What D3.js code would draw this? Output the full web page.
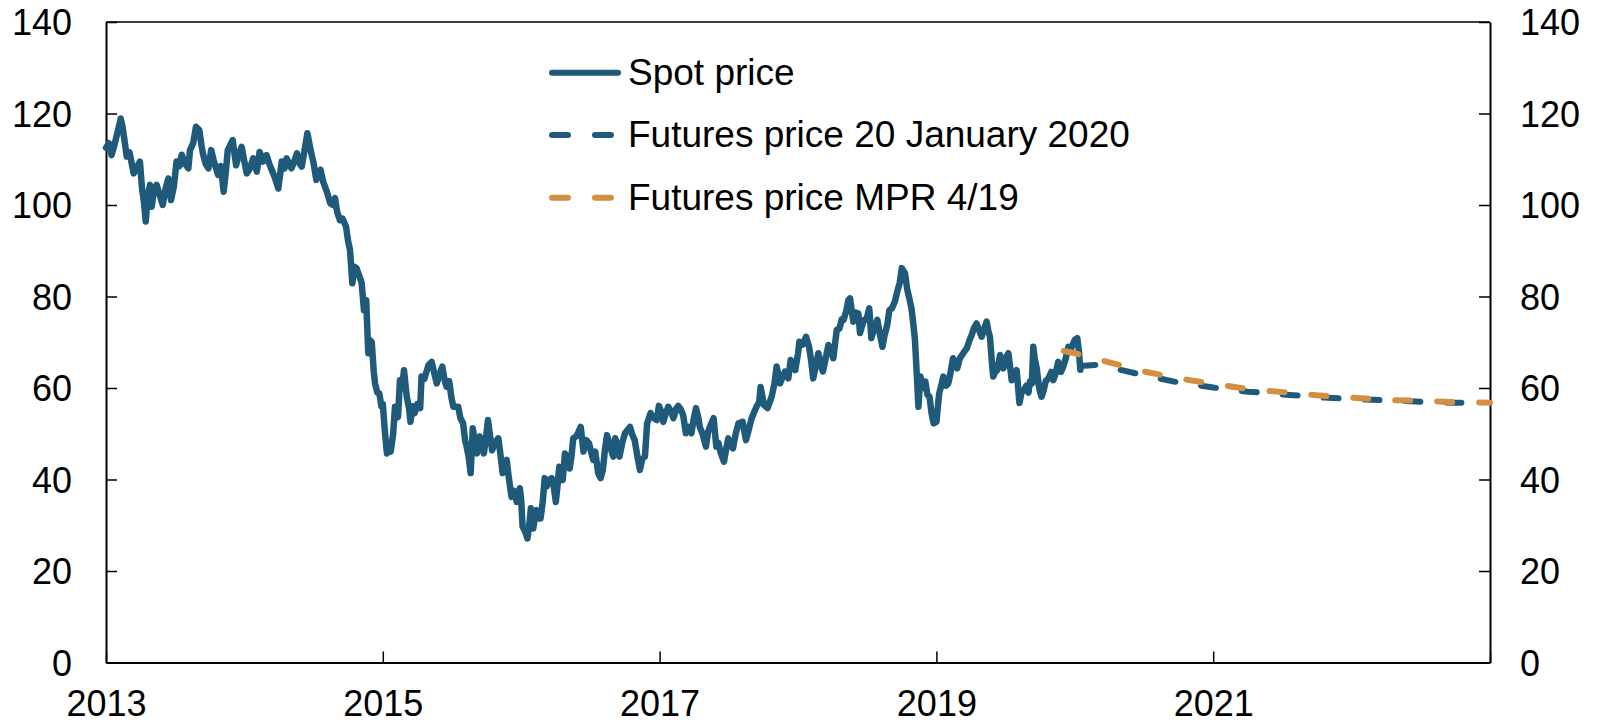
<!DOCTYPE html>
<html><head><meta charset="utf-8">
<script src="https://cdn.jsdelivr.net/npm/d3@7"></script>
<style>
body{margin:0;background:#fff}
svg{display:block}
text{font-family:"Liberation Sans",Arial,sans-serif;fill:#000}
</style>
</head><body>
<svg id="c" width="1598" height="724"></svg>
<script>
// ---------- data ----------
const yTicks = [0, 20, 40, 60, 80, 100, 120, 140];
const xTicks = [2013, 2015, 2017, 2019, 2021, 2023];
const xTickLabels = ["2013", "2015", "2017", "2019", "2021", ""];
const seriesNames = ["Spot price", "Futures price 20 January 2020", "Futures price MPR 4/19"];
const seriesColors = ["#1f5a7a", "#1f5a7a", "#d48f42"];

// Brent spot price, USD per barrel (time as decimal year)
const spot = [
[2013.00,112.5],[2013.02,113.5],[2013.04,110.9],[2013.06,113.0],[2013.08,115.5],[2013.10,118.0],[2013.106,118.9],[2013.12,117.0],
[2013.15,110.6],[2013.17,111.5],[2013.20,106.9],[2013.22,108.0],[2013.245,109.5],[2013.26,103.7],[2013.275,100.5],[2013.287,96.4],
[2013.30,101.5],[2013.318,104.4],[2013.33,99.6],[2013.345,103.0],[2013.366,104.4],[2013.39,102.0],[2013.41,100.0],[2013.43,103.5],
[2013.45,105.8],[2013.47,101.1],[2013.49,104.0],[2013.51,109.5],[2013.53,108.5],[2013.547,111.0],[2013.57,109.0],[2013.595,108.0],
[2013.607,112.0],[2013.63,113.5],[2013.65,117.1],[2013.674,116.4],[2013.69,113.0],[2013.70,111.3],[2013.72,109.0],[2013.74,108.0],
[2013.76,112.0],[2013.78,109.5],[2013.81,106.6],[2013.83,108.5],[2013.85,102.9],[2013.865,107.0],[2013.88,112.0],[2013.915,114.2],
[2013.94,108.7],[2013.96,111.0],[2013.98,112.7],[2014.00,109.5],[2014.017,106.9],[2014.04,108.0],[2014.064,110.2],[2014.09,107.3],
[2014.11,111.6],[2014.135,109.5],[2014.16,110.9],[2014.18,109.0],[2014.197,107.7],[2014.22,106.0],[2014.245,103.6],[2014.27,109.5],
[2014.29,108.0],[2014.305,110.2],[2014.34,108.0],[2014.36,109.5],[2014.38,111.3],[2014.40,109.0],[2014.414,108.4],[2014.435,112.0],
[2014.455,115.7],[2014.475,112.5],[2014.50,109.1],[2014.52,105.5],[2014.535,107.0],[2014.55,107.7],[2014.57,105.0],[2014.595,103.0],
[2014.62,100.4],[2014.64,100.0],[2014.655,101.5],[2014.67,98.5],[2014.69,96.7],[2014.71,97.0],[2014.734,95.3],[2014.75,92.0],
[2014.763,90.2],[2014.775,85.0],[2014.78,82.9],[2014.795,86.5],[2014.81,86.2],[2014.83,84.5],[2014.847,83.0],[2014.864,77.0],
[2014.88,79.2],[2014.895,67.6],[2014.905,70.5],[2014.92,70.0],[2014.935,63.5],[2014.944,61.0],[2014.96,59.0],[2014.975,58.8],
[2014.99,56.0],[2015.00,56.5],[2015.015,50.5],[2015.03,45.7],[2015.045,47.0],[2015.057,46.1],[2015.075,50.0],[2015.088,55.9],
[2015.10,53.5],[2015.11,53.7],[2015.124,61.7],[2015.14,60.0],[2015.153,63.9],[2015.173,58.1],[2015.19,55.5],[2015.20,52.6],
[2015.215,56.0],[2015.23,54.5],[2015.25,56.5],[2015.27,55.6],[2015.28,62.5],[2015.30,62.0],[2015.33,65.0],[2015.353,65.7],
[2015.37,63.5],[2015.39,61.0],[2015.41,63.0],[2015.43,64.7],[2015.445,62.0],[2015.46,60.3],[2015.48,61.5],[2015.495,58.0],
[2015.51,55.9],[2015.545,55.9],[2015.56,53.5],[2015.58,52.3],[2015.595,48.5],[2015.606,47.2],[2015.62,45.0],[2015.635,41.4],
[2015.65,51.2],[2015.665,48.0],[2015.68,45.7],[2015.70,49.4],[2015.715,47.5],[2015.73,45.7],[2015.745,49.0],[2015.76,53.0],
[2015.775,49.5],[2015.79,46.4],[2015.81,48.0],[2015.835,49.0],[2015.85,45.5],[2015.866,41.4],[2015.88,43.5],[2015.895,44.3],
[2015.91,40.5],[2015.93,36.2],[2015.95,37.5],[2015.968,35.1],[2015.99,38.1],[2016.00,35.5],[2016.01,29.7],[2016.03,28.5],
[2016.045,27.1],[2016.06,30.5],[2016.07,33.7],[2016.087,29.3],[2016.10,32.0],[2016.11,33.3],[2016.125,31.5],[2016.14,31.5],
[2016.155,35.0],[2016.17,40.3],[2016.185,38.5],[2016.20,39.9],[2016.22,40.3],[2016.235,38.5],[2016.25,35.1],[2016.262,38.5],
[2016.275,42.8],[2016.29,41.5],[2016.30,39.9],[2016.316,45.7],[2016.33,45.0],[2016.35,42.4],[2016.363,45.0],[2016.376,49.0],
[2016.40,49.5],[2016.43,51.5],[2016.45,46.1],[2016.47,48.6],[2016.49,47.9],[2016.52,44.3],[2016.535,46.1],[2016.556,41.4],
[2016.574,40.3],[2016.59,42.1],[2016.605,46.5],[2016.62,49.7],[2016.64,47.5],[2016.665,45.0],[2016.68,49.0],[2016.695,47.5],
[2016.71,45.0],[2016.73,48.0],[2016.75,50.1],[2016.786,51.5],[2016.80,50.0],[2016.82,48.6],[2016.84,45.0],[2016.858,42.1],
[2016.875,44.5],[2016.894,45.0],[2016.91,52.3],[2016.935,54.5],[2016.955,53.5],[2016.98,53.0],[2016.995,56.1],[2017.01,55.0],
[2017.027,52.6],[2017.045,54.5],[2017.063,55.9],[2017.08,55.0],[2017.10,53.4],[2017.12,55.5],[2017.135,56.1],[2017.15,55.5],
[2017.17,54.1],[2017.19,50.1],[2017.21,51.5],[2017.23,50.1],[2017.245,53.0],[2017.263,55.6],[2017.28,53.5],[2017.29,51.5],
[2017.31,50.0],[2017.335,47.2],[2017.35,50.4],[2017.37,52.0],[2017.39,53.4],[2017.41,47.2],[2017.425,48.0],[2017.44,46.0],
[2017.465,43.9],[2017.48,46.5],[2017.496,49.0],[2017.51,47.5],[2017.53,46.8],[2017.55,50.0],[2017.57,52.3],[2017.60,52.6],
[2017.624,48.6],[2017.645,51.0],[2017.665,53.4],[2017.68,54.5],[2017.70,55.9],[2017.72,57.0],[2017.73,60.2],[2017.754,56.3],
[2017.78,55.6],[2017.81,58.1],[2017.83,61.0],[2017.846,64.7],[2017.87,61.0],[2017.89,62.5],[2017.906,63.6],[2017.93,62.1],
[2017.947,66.1],[2017.98,63.9],[2018.00,67.5],[2018.01,70.1],[2018.035,69.5],[2018.058,71.2],[2018.08,69.0],[2018.095,66.0],
[2018.11,62.1],[2018.13,65.0],[2018.147,67.6],[2018.165,65.0],[2018.18,63.6],[2018.20,66.5],[2018.22,69.4],[2018.24,68.0],
[2018.255,66.5],[2018.28,72.7],[2018.30,73.0],[2018.316,75.0],[2018.33,74.9],[2018.35,77.0],[2018.364,79.2],[2018.376,79.6],
[2018.39,76.5],[2018.40,74.5],[2018.418,76.5],[2018.436,76.3],[2018.448,72.0],[2018.462,73.5],[2018.477,74.9],[2018.495,75.0],
[2018.515,77.4],[2018.53,70.9],[2018.55,73.0],[2018.573,74.9],[2018.59,72.0],[2018.61,69.0],[2018.625,71.5],[2018.645,73.8],
[2018.66,77.0],[2018.68,77.5],[2018.70,78.9],[2018.72,81.4],[2018.735,83.0],[2018.75,86.2],[2018.773,85.1],[2018.79,81.4],
[2018.805,79.5],[2018.82,77.4],[2018.835,73.5],[2018.845,70.5],[2018.86,62.0],[2018.87,55.9],[2018.885,62.5],[2018.90,60.0],
[2018.92,61.4],[2018.935,58.5],[2018.95,58.1],[2018.965,54.5],[2018.98,52.3],[2019.00,52.6],[2019.02,58.8],[2019.035,60.5],
[2019.05,62.5],[2019.07,60.5],[2019.086,61.0],[2019.10,63.0],[2019.12,66.5],[2019.135,65.5],[2019.15,64.3],[2019.17,66.5],
[2019.194,67.6],[2019.22,68.7],[2019.24,70.5],[2019.255,71.6],[2019.27,73.0],[2019.29,74.1],[2019.31,72.5],[2019.327,71.2],
[2019.345,73.0],[2019.363,74.5],[2019.375,72.5],[2019.387,71.2],[2019.40,66.0],[2019.41,62.5],[2019.425,63.5],[2019.44,63.9],
[2019.46,67.2],[2019.484,64.3],[2019.50,66.5],[2019.52,67.6],[2019.535,64.0],[2019.544,61.7],[2019.56,62.5],[2019.58,63.9],
[2019.60,56.7],[2019.615,59.0],[2019.632,59.6],[2019.65,60.5],[2019.665,59.0],[2019.676,61.4],[2019.69,61.0],[2019.70,69.0],
[2019.71,66.5],[2019.725,64.3],[2019.74,60.5],[2019.75,59.0],[2019.76,58.1],[2019.775,59.5],[2019.79,61.5],[2019.81,62.1],
[2019.83,63.5],[2019.845,61.7],[2019.86,63.0],[2019.88,65.7],[2019.90,63.5],[2019.917,64.7],[2019.935,66.5],[2019.953,69.0],
[2019.97,68.5],[2019.985,69.5],[2020.00,70.5],[2020.018,70.9],[2020.03,68.0],[2020.04,64.0]
];

// Futures curve 20 January 2020
const futJan20 = [
[2020.04,64.8],[2020.17,65.1],[2020.25,64.5],[2020.50,62.8],[2020.75,61.2],[2021.00,60.1],[2021.25,59.2],
[2021.50,58.6],[2021.75,58.0],[2022.00,57.6],[2022.25,57.3],[2022.50,57.0],[2022.75,56.8],[2022.93,56.7]
];

// Futures curve MPR 4/19
const futMPR = [
[2019.92,68.1],[2020.00,67.6],[2020.25,65.6],[2020.50,63.6],[2020.75,62.1],[2021.00,60.9],[2021.25,59.8],
[2021.50,59.1],[2021.75,58.4],[2022.00,57.9],[2022.25,57.4],[2022.50,57.2],[2022.75,56.9],[2023.00,56.8]
];

// ---------- chart ----------
const L = 106, R = 1490, T = 22, B = 662.5;
const svg = d3.select("#c");
const x = d3.scaleLinear().domain([2013, 2023]).range([L, R]);
const y = d3.scaleLinear().domain([0, 140]).range([B, T]);

const line = d3.line().x(d => x(d[0])).y(d => y(d[1]));

// top border
svg.append("line").attr("x1", L).attr("x2", R).attr("y1", T).attr("y2", T)
  .attr("stroke", "#000").attr("stroke-width", 1.5);

// axes
const fs = 36;
const gL = svg.append("g").attr("transform", `translate(${L},0)`)
  .call(d3.axisLeft(y).tickValues(yTicks).tickSize(-11).tickSizeOuter(0).tickPadding(34).tickFormat(d3.format("d")));
const gR = svg.append("g").attr("transform", `translate(${R},0)`)
  .call(d3.axisRight(y).tickValues(yTicks).tickSize(-11).tickSizeOuter(0).tickPadding(30).tickFormat(d3.format("d")));
const gB = svg.append("g").attr("transform", `translate(0,${B})`)
  .call(d3.axisBottom(x).tickValues(xTicks).tickSize(-11).tickSizeOuter(0).tickPadding(28)
    .tickFormat((d, i) => xTickLabels[i]));

[gL, gR, gB].forEach(g => {
  g.attr("font-size", fs).attr("font-family", '"Liberation Sans", Arial, sans-serif');
  g.select(".domain").attr("stroke", "#000").attr("stroke-width", 2);
  g.selectAll(".tick line").attr("stroke", "#000").attr("stroke-width", 1.5);
  g.selectAll(".tick text").attr("fill", "#000");
});
gL.selectAll(".tick text").attr("dy", "0.35em");
gR.selectAll(".tick text").attr("dy", "0.35em");

// series
svg.append("path").datum(spot).attr("d", line)
  .attr("fill", "none").attr("stroke", seriesColors[0]).attr("stroke-width", 6.5)
  .attr("stroke-linejoin", "round").attr("stroke-linecap", "round");
svg.append("path").datum(futJan20).attr("d", line)
  .attr("fill", "none").attr("stroke", seriesColors[1]).attr("stroke-width", 6)
  .attr("stroke-dasharray", "15,26").attr("stroke-linecap", "round");
svg.append("path").datum(futMPR).attr("d", line)
  .attr("fill", "none").attr("stroke", seriesColors[2]).attr("stroke-width", 6)
  .attr("stroke-dasharray", "15,27").attr("stroke-linecap", "round");

// legend
const legY = [72.7, 135, 197.7];
const leg = svg.append("g");
seriesNames.forEach((name, i) => {
  const g = leg.append("g").attr("transform", `translate(0,${legY[i]})`);
  g.append("line").attr("x1", 552).attr("x2", i === 0 ? 618 : 611).attr("y1", 0).attr("y2", 0)
    .attr("stroke", seriesColors[i]).attr("stroke-width", 6).attr("stroke-linecap", "round")
    .attr("stroke-dasharray", i === 0 ? null : "16,27");
  g.append("text").attr("x", 628).attr("y", 12.3)
    .attr("font-size", 37).text(name);
});
</script>
</body></html>
